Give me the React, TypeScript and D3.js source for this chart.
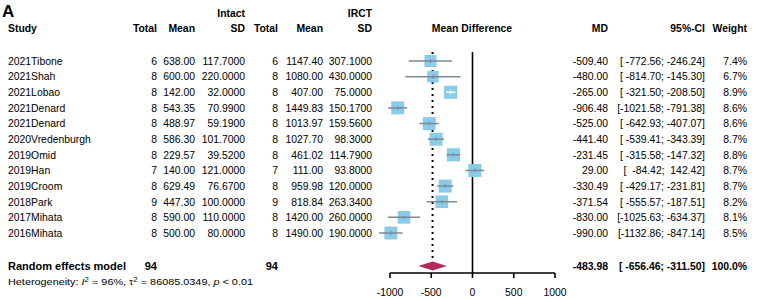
import React from "react";
import * as d3 from "d3";

const studies = ["2021Tibone","2021Shah","2021Lobao","2021Denard","2021Denard","2020Vredenburgh","2019Omid","2019Han","2019Croom","2018Park","2017Mihata","2016Mihata"];
const intactN = [6,8,8,8,8,8,8,7,8,9,8,8];
const intactMean = [638.00,600.00,142.00,543.35,488.97,586.30,229.57,140.00,629.49,447.30,590.00,500.00];
const intactSD = [117.7,220.0,32.0,70.99,59.19,101.7,39.52,121.0,76.67,100.0,110.0,80.0];
const irctN = [6,8,8,8,8,8,8,7,8,9,8,8];
const irctMean = [1147.40,1080.00,407.00,1449.83,1013.97,1027.70,461.02,111.00,959.98,818.84,1420.00,1490.00];
const irctSD = [307.1,430.0,75.0,150.17,159.56,98.3,114.79,93.8,120.0,263.34,260.0,190.0];
const md = [-509.40,-480.00,-265.00,-906.48,-525.00,-441.40,-231.45,29.00,-330.49,-371.54,-830.00,-990.00];
const ciLow = [-772.56,-814.70,-321.50,-1021.58,-642.93,-539.41,-315.58,-84.42,-429.17,-555.57,-1025.63,-1132.86];
const ciHigh = [-246.24,-145.30,-208.50,-791.38,-407.07,-343.39,-147.32,142.42,-231.81,-187.51,-634.37,-847.14];
const weights = [7.4,6.7,8.9,8.6,8.6,8.7,8.8,8.7,8.7,8.2,8.1,8.5];
const pooled = { md: -483.98, low: -656.46, high: -311.50, weight: 100.0, n1: 94, n2: 94 };
const axisTicks = [-1000,-500,0,500,1000];

const FONT = "'Liberation Sans', Arial, sans-serif";

const fmtCI = (lo: number, hi: number) =>
  "[" + lo.toFixed(2).padStart(8, " ") + ";" + hi.toFixed(2).padStart(8, " ") + "]";

export default function App() {
  const W = 760, H = 299;
  const x = d3.scaleLinear().domain([-1000, 1000]).range([390, 555]);
  const y = d3.scaleLinear().domain([0, studies.length - 1]).range([61, 233]);
  const yPooled = 266;
  const yAxis = 273;
  const fs = 10.4;
  const off = 3.8;
  const side = d3.scaleSqrt().domain([0, 10]).range([0, 4.42 * Math.sqrt(10)]);
  const ciCol = "#7b8896";

  const cols = { total1: 157, mean1: 195, sd1: 245, total2: 278, mean2: 323, sd2: 372, md: 608, ci: 705, w: 747 };
  const txt = (props: any, s: string | number, key?: any) => (
    <text key={key} fontFamily={FONT} fontSize={fs} fill="#000" style={{ whiteSpace: "pre" }} {...props}>{s}</text>
  );

  return (
    <svg width={W} height={H} style={{ position: "absolute", left: 0, top: 0, background: "#fff" }}>
      <rect x={0} y={0} width={W} height={H} fill="#fff" />
      <text x={2} y={17} fontFamily={FONT} fontSize={17} fontWeight="bold">A</text>
      {/* headers */}
      {txt({ x: cols.sd1, y: 13 + off, textAnchor: "end", fontWeight: "bold" }, "Intact")}
      {txt({ x: cols.sd2, y: 13 + off, textAnchor: "end", fontWeight: "bold" }, "IRCT")}
      {txt({ x: 8, y: 28 + off, fontWeight: "bold" }, "Study")}
      {txt({ x: cols.total1, y: 28 + off, textAnchor: "end", fontWeight: "bold" }, "Total")}
      {txt({ x: cols.mean1, y: 28 + off, textAnchor: "end", fontWeight: "bold" }, "Mean")}
      {txt({ x: cols.sd1, y: 28 + off, textAnchor: "end", fontWeight: "bold" }, "SD")}
      {txt({ x: cols.total2, y: 28 + off, textAnchor: "end", fontWeight: "bold" }, "Total")}
      {txt({ x: cols.mean2, y: 28 + off, textAnchor: "end", fontWeight: "bold" }, "Mean")}
      {txt({ x: cols.sd2, y: 28 + off, textAnchor: "end", fontWeight: "bold" }, "SD")}
      {txt({ x: 472, y: 28 + off, textAnchor: "middle", fontWeight: "bold" }, "Mean Difference")}
      {txt({ x: cols.md, y: 28 + off, textAnchor: "end", fontWeight: "bold" }, "MD")}
      {txt({ x: cols.ci, y: 28 + off, textAnchor: "end", fontWeight: "bold" }, "95%-CI")}
      {txt({ x: cols.w, y: 28 + off, textAnchor: "end", fontWeight: "bold" }, "Weight")}

      {/* reference lines */}
      <line x1={x(0)} x2={x(0)} y1={52} y2={yAxis} stroke="#000" strokeWidth={1.6} />
      <line x1={x(pooled.md)} x2={x(pooled.md)} y1={52} y2={yPooled - 4} stroke="#000" strokeWidth={2} strokeDasharray="2,4" />

      {studies.map((s, i) => {
        const yy = y(i);
        const sd = side(weights[i]);
        const x1 = x(ciLow[i]), x2 = x(ciHigh[i]);
        const inside = x1 >= x(md[i]) - sd / 2 && x2 <= x(md[i]) + sd / 2;
        const lc = inside ? "#fff" : ciCol;
        return (
          <g key={i}>
            {txt({ x: 8, y: yy + off }, s)}
            {txt({ x: cols.total1, y: yy + off, textAnchor: "end" }, intactN[i])}
            {txt({ x: cols.mean1, y: yy + off, textAnchor: "end" }, intactMean[i].toFixed(2))}
            {txt({ x: cols.sd1, y: yy + off, textAnchor: "end" }, intactSD[i].toFixed(4))}
            {txt({ x: cols.total2, y: yy + off, textAnchor: "end" }, irctN[i])}
            {txt({ x: cols.mean2, y: yy + off, textAnchor: "end" }, irctMean[i].toFixed(2))}
            {txt({ x: cols.sd2, y: yy + off, textAnchor: "end" }, irctSD[i].toFixed(4))}
            {txt({ x: cols.md, y: yy + off, textAnchor: "end" }, md[i].toFixed(2))}
            {txt({ x: cols.ci, y: yy + off, textAnchor: "end" }, fmtCI(ciLow[i], ciHigh[i]))}
            {txt({ x: cols.w, y: yy + off, textAnchor: "end" }, weights[i].toFixed(1) + "%")}
            <rect x={x(md[i]) - sd / 2} y={yy - sd / 2} width={sd} height={sd} fill="#89cbe8" />
            <line x1={x1} x2={x2} y1={yy} y2={yy} stroke={lc} strokeWidth={1.5} />
            <line x1={x(md[i])} x2={x(md[i])} y1={yy - 2} y2={yy + 2} stroke={lc} strokeWidth={1} />
          </g>
        );
      })}

      {/* pooled */}
      <path d={`M${x(pooled.low)},${yPooled} L${x(pooled.md)},${yPooled - 4.5} L${x(pooled.high)},${yPooled} L${x(pooled.md)},${yPooled + 4.5} Z`} fill="#b02a5d" />
      {txt({ x: 8, y: yPooled + 4, fontWeight: "bold", fontSize: 11 }, "Random effects model")}
      {txt({ x: cols.total1, y: yPooled + 4, textAnchor: "end", fontWeight: "bold", fontSize: 11 }, pooled.n1)}
      {txt({ x: cols.total2, y: yPooled + 4, textAnchor: "end", fontWeight: "bold", fontSize: 11 }, pooled.n2)}
      {txt({ x: cols.md, y: yPooled + off, textAnchor: "end", fontWeight: "bold" }, pooled.md.toFixed(2))}
      {txt({ x: cols.ci, y: yPooled + off, textAnchor: "end", fontWeight: "bold" }, fmtCI(pooled.low, pooled.high))}
      {txt({ x: cols.w, y: yPooled + off, textAnchor: "end", fontWeight: "bold" }, pooled.weight.toFixed(1) + "%")}

      <text x={8} y={285} fontFamily={FONT} fontSize={9} fill="#000" textLength={245} lengthAdjust="spacingAndGlyphs">
        Heterogeneity: <tspan fontStyle="italic">I</tspan><tspan fontSize={6.5} dy={-3.5}>2</tspan><tspan dy={3.5}> = 96%, τ</tspan><tspan fontSize={6.5} dy={-3.5}>2</tspan><tspan dy={3.5}> = 86085.0349, </tspan><tspan fontStyle="italic">p</tspan> &lt; 0.01
      </text>

      {/* axis */}
      <line x1={x(-1000)} x2={x(1000)} y1={yAxis} y2={yAxis} stroke="#000" strokeWidth={1.6} />
      {axisTicks.map((t) => (
        <g key={t}>
          <line x1={x(t)} x2={x(t)} y1={yAxis} y2={yAxis + 5} stroke="#000" strokeWidth={1.6} />
          {txt({ x: x(t), y: 296, textAnchor: "middle" }, t)}
        </g>
      ))}
    </svg>
  );
}
